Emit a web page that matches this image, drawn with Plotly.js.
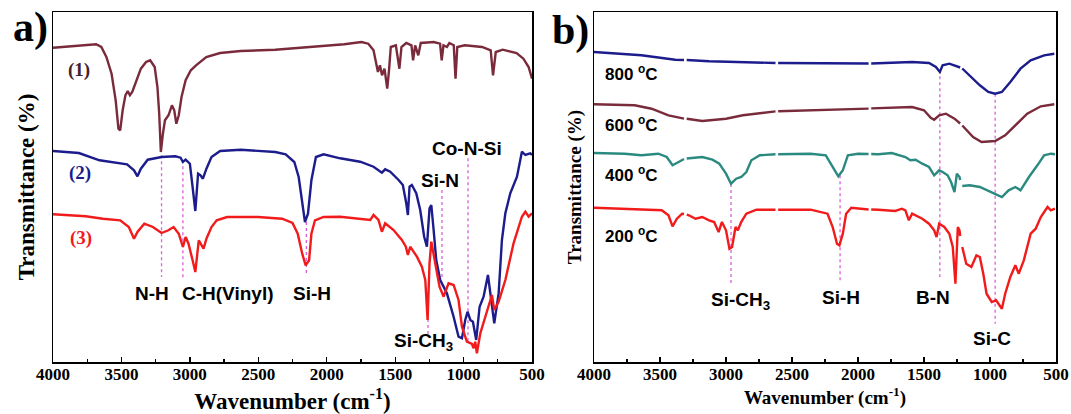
<!DOCTYPE html>
<html>
<head>
<meta charset="utf-8">
<script src="https://cdn.plot.ly/plotly-3.0.1.min.js"></script>
<style>html,body{margin:0;padding:0;background:#fff;}#chart{width:1071px;height:414px;}</style>
</head>
<body>
<div id="chart"></div>
<script>
// ---------- Panel a data (wavenumber, relative transmittance, stacked offsets) ----------
const wnA1 = [4000,3685,3647,3610,3572,3542,3522,3509,3491,3471,3454,3438,3421,3396,3358,3320,3290,3257,3237,3224,3212,3197,3182,3156,3131,3114,3099,3081,3061,3031,2993,2955,2880,2779,2628,2376,2124,1872,1746,1696,1658,1641,1626,1611,1596,1578,1558,1545,1532,1495,1469,1454,1419,1381,1369,1354,1331,1313,1218,1172,1160,1147,1122,1104,1072,1059,1046,991,865,802,785,765,714,613,563,525,500];
const trA1 = [314.3,317.7,315,305,288.3,261.7,233.3,231.7,251.7,266.7,271,266.7,270,280,293.3,300,301.7,295,275,248.3,210,228.3,241.7,246.7,256.7,251.7,238.3,246.7,265,281.7,291.7,296.7,305,309,311,312.3,315,317.7,320,318.3,311.7,301.7,290,296.7,286.7,293.3,273.3,291.7,315,316.7,293.3,315,319,316.7,301.7,316.7,306.7,319,320,318.3,301.7,316.7,315,319,316.7,283.3,315,316.7,315,311.7,286.7,310,312.3,309,303.3,295,283.3];

const wnA2 = [4000,3811,3660,3559,3459,3408,3383,3358,3308,3207,3106,3068,3051,3031,3000,2980,2960,2940,2922,2905,2879,2842,2779,2628,2376,2300,2237,2205,2179,2159,2137,2112,2079,2023,1902,1756,1658,1597,1573,1536,1475,1444,1419,1407,1395,1378,1346,1317,1288,1268,1249,1236,1219,1200,1171,1122,1073,1037,1012,988,971,951,932,908,883,854,822,800,776,744,720,695,659,610,574,549,513,500];
const trA2 = [211,209,201.7,200,197.7,191.7,185.7,193.3,202.3,205,205.7,204.3,200,202.3,198.3,175,151,188.3,186.7,183.3,193.3,205,211,212.3,210,207.7,200,185,158.3,140,148.3,181.7,205,207.7,203.7,200.3,195.3,189.3,192.7,190.3,182,177,158.7,147,175.3,177,168.7,152,125.3,115.3,153.7,157,132,102,82,68.7,45.3,25.3,23.7,42,50.3,42,40.3,22,55.3,65.3,87,65.3,38.7,68.7,122,148.7,168.7,185.3,210.3,207,208.7,207];

const wnA3 = [4000,3761,3635,3509,3446,3408,3383,3333,3270,3207,3157,3119,3081,3051,3031,3010,2980,2960,2935,2917,2900,2879,2842,2804,2728,2502,2326,2250,2212,2179,2154,2129,2112,2086,2023,1902,1780,1682,1658,1622,1597,1573,1512,1451,1422,1407,1390,1341,1305,1280,1263,1249,1236,1207,1176,1146,1110,1073,1037,1012,976,939,927,915,903,878,842,817,793,776,744,695,635,574,549,525,500];
const trA3 = [147.7,145.7,143.3,141.7,135,123.3,130,138.3,135,129,131.7,135,128.3,115,125,118.3,101.7,90,121.7,116.7,113.3,123.3,135,141.7,145,145,143.3,139,128.3,108.3,96.7,101.7,128.3,141.7,145,145.3,143.7,142,147,142,130.3,138.7,132,122,115.3,107,115.3,105.3,95.3,82,42,98.7,120.3,98.7,75.3,65.3,78.7,77,62,35.3,20.3,18,13.7,20.3,8.7,28.7,45.3,55.3,67,52,60.3,82,118.7,145.3,150.3,145.3,148.7];

const seriesNamesA = ["(1)", "(2)", "(3)"];

// marker lines panel a
const markWnA = [3207, 3051, 2149, 1260, 1158, 968];
const markTopA = [206.7, 201.7, 140, 55, 172, 203.7];
const markBotA = [85, 83.3, 88.3, 25, 82, 18.7];
const bandLabelsA = ["N-H", "C-H(Vinyl)", "Si-H", "Si-N", "Co-N-Si", "Si-CH<sub>3</sub>"];

// ---------- Panel b data (null = small break visible in the original lines) ----------
const wnB800 = [4000,3641,3385,3318,3308,3298,3128,2625,2615,2605,2103,1920,1910,1900,1590,1462,1410,1380,1359,1308,1231,1226,1218,1210,1154,1077,1013,961,910,846,769,692,590,513];
const trB800 = [310,306.7,302.3,302,null,302,300.7,299,null,299,298.3,298.5,null,298.5,300,299,295,290,296.7,298.3,295,294.5,null,293.5,286.7,276.7,270,268.3,270,280,293.3,301.7,306.7,308.3];

const wnB600 = [4000,3692,3564,3436,3318,3308,3298,3180,3000,2872,2625,2615,2605,2103,1920,1910,1900,1590,1500,1449,1423,1385,1334,1269,1226,1218,1210,1128,1064,961,885,795,718,615,513];
const trB600 = [257.7,256.7,253.3,246.7,243.3,null,243.2,241,243.3,246.7,250.6,null,250.8,253,253.4,null,253.6,255,251.7,244.3,242.3,246.7,248.3,243.3,238.5,null,236.5,225,220,221,226.7,238.3,248.3,255.7,257.7];

const wnB400 = [4000,3769,3641,3513,3449,3405,3359,3318,3308,3298,3180,3103,3051,3000,2962,2923,2885,2846,2808,2744,2625,2615,2605,2359,2244,2192,2149,2115,2077,2000,1920,1910,1900,1846,1744,1692,1641,1603,1564,1513,1462,1423,1385,1359,1321,1295,1269,1251,1231,1226,1218,1210,1154,1077,1026,961,910,859,808,769,705,641,590,539,508];
const trB400 = [209,208.3,206.7,208.3,205,196.7,200,203,null,203.5,205,202.3,198.3,188.3,178.3,183.3,185,190,201.7,206.7,207.7,null,207.7,208.3,206.7,195,185.7,191.7,206.7,208.3,208,null,208,207.7,209,206.7,205,201.7,202.3,198.3,195,186.7,191.7,190,186.7,180,170,188.3,185,182,null,176,176.7,175,171.7,168.3,165,171.7,175,171.7,185,196.7,206.7,208.3,207.7];

const wnB200 = [4000,3769,3641,3487,3436,3405,3372,3333,3318,3308,3298,3282,3231,3180,3128,3090,3056,3031,3000,2974,2954,2928,2910,2885,2846,2769,2625,2615,2605,2359,2231,2192,2159,2141,2115,2090,2051,1920,1910,1900,1846,1718,1667,1641,1615,1590,1513,1462,1423,1405,1385,1346,1308,1282,1262,1244,1231,1226,1218,1210,1180,1141,1103,1077,1051,1026,987,954,936,910,885,846,808,782,744,692,654,615,564,539,508];
const trB200 = [154.3,153.3,152.3,151.7,146.7,135.7,143.3,148.3,148,null,147.5,146.7,143.3,145,141.7,140,130,140,131.7,113.3,115,135,131.7,140,148.3,152.3,152.3,null,152.3,152.3,148.3,135,118.3,116.7,128.3,148.3,154.3,152.5,null,152.5,152.3,151,153.3,151.7,141.7,148.3,143.3,138.3,131.7,125,138.3,135,128.3,115,78.3,135,131.7,126,null,115,98.3,95,106.7,105,88.3,68.3,60,61.7,58.3,53.3,68.3,85,96.7,88.3,101.7,128.3,133.3,145,155,151.7,153.3];

const tempLabelsB = ["800 <sup>o</sup>C", "600 <sup>o</sup>C", "400 <sup>o</sup>C", "200 <sup>o</sup>C"];

const markWnB = [2962, 2136, 1380, 961];
const markTopB = [178, 186.7, 291.7, 268.3];
const markBotB = [78, 81.7, 85, 38.3];
const bandLabelsB = ["Si-CH<sub>3</sub>", "Si-H", "B-N", "Si-C"];

const xTickVals = [4000, 3500, 3000, 2500, 2000, 1500, 1000, 500];
const xTickText = ["4000", "3500", "3000", "2500", "2000", "1500", "1000", "500"];

// ---------- styles ----------
const MAROON = "#7a2b3b", NAVY = "#1c1c8c", RED = "#f21b1b", TEAL = "#2b8a80", DOT = "#dd5ddd";
const serif = "Liberation Serif, Times New Roman, serif";
const sans = "Liberation Sans, Arial, sans-serif";

function markerTrace(wn, top, bot, xa, ya) {
  const xs = [], ys = [];
  for (let i = 0; i < wn.length; i++) { xs.push(wn[i], wn[i], null); ys.push(top[i], bot[i], null); }
  return {x: xs, y: ys, xaxis: xa, yaxis: ya, mode: "lines", line: {color: DOT, width: 1.3, dash: "dot"}, hoverinfo: "skip", showlegend: false};
}
function curve(x, y, color, name, xa, ya) {
  return {x: x, y: y, xaxis: xa, yaxis: ya, mode: "lines", name: name, connectgaps: false, line: {color: color, width: 2.4}, showlegend: false};
}

const data = [
  markerTrace(markWnA, markTopA, markBotA, "x", "y"),
  markerTrace(markWnB, markTopB, markBotB, "x2", "y2"),
  curve(wnA1, trA1, MAROON, seriesNamesA[0], "x", "y"),
  curve(wnA2, trA2, NAVY, seriesNamesA[1], "x", "y"),
  curve(wnA3, trA3, RED, seriesNamesA[2], "x", "y"),
  curve(wnB800, trB800, NAVY, "800 °C", "x2", "y2"),
  curve(wnB600, trB600, MAROON, "600 °C", "x2", "y2"),
  curve(wnB400, trB400, TEAL, "400 °C", "x2", "y2"),
  curve(wnB200, trB200, RED, "200 °C", "x2", "y2")
];

function xAxis(domain, titleSize, standoff) {
  return {
    domain: domain, range: [4000, 500], anchor: domain[0] === 0 ? "y" : "y2",
    tickvals: xTickVals, ticktext: xTickText,
    ticks: "inside", ticklen: 5, tickwidth: 1.3, tickcolor: "#000",
    minor: {dtick: 250, tick0: 0, ticks: "inside", ticklen: 3, tickwidth: 1.2, tickcolor: "#000"},
    showline: true, linecolor: "#000", linewidth: 1.5, mirror: true,
    showgrid: false, zeroline: false, automargin: false,
    ticklabelstandoff: -4,
    tickfont: {family: serif, size: 17, color: "#000", weight: "bold"},
    title: {text: "Wavenumber (cm<sup>-1</sup>)", font: {family: serif, size: titleSize, color: "#000", weight: "bold"}, standoff: standoff}
  };
}
function yAxis(anchor, titleSize, standoff) {
  return {
    domain: [0, 1], range: [0, 350], anchor: anchor,
    showticklabels: false, ticks: "", showgrid: false, zeroline: false,
    showline: true, linecolor: "#000", linewidth: 1.5, mirror: true, automargin: false,
    title: {text: "Transmittance (%)", font: {family: serif, size: titleSize, color: "#000", weight: "bold"}, standoff: standoff}
  };
}

const annotations = [];
function ann(text, x, y, xref, yref, font, extra) {
  annotations.push(Object.assign({text: text, x: x, y: y, xref: xref, yref: yref, showarrow: false, font: font, xanchor: "center", yanchor: "middle"}, extra || {}));
}
const bandFont = {family: sans, size: 19, color: "#000", weight: "bold"};
// panel letters
ann("a)", -0.022, 0.955, "paper", "paper", {family: serif, size: 42, color: "#000", weight: "bold"});
ann("b)", 0.5155, 0.948, "paper", "paper", {family: serif, size: 42, color: "#000", weight: "bold"});
// curve labels panel a
ann(seriesNamesA[0], 3810, 292, "x", "y", {family: serif, size: 19, color: "#45222b", weight: "bold"});
ann(seriesNamesA[1], 3803, 189, "x", "y", {family: serif, size: 19, color: NAVY, weight: "bold"});
ann(seriesNamesA[2], 3795, 124, "x", "y", {family: serif, size: 19, color: RED, weight: "bold"});
// band labels panel a
const bandPosA = [[3280, 69], [2728, 69], [2109, 69], [1171, 182], [975, 214], [1295, 20]];
bandLabelsA.forEach((t, i) => ann(t, bandPosA[i][0], bandPosA[i][1], "x", "y", bandFont));
// temperature labels panel b
const tempY = [289, 238, 188, 127];
tempLabelsB.forEach((t, i) => ann(t, 3932, tempY[i], "x2", "y2", {family: sans, size: 17, color: "#000", weight: "bold"}, {xanchor: "left"}));
// band labels panel b
const bandPosB = [[2894, 61], [2129, 65], [1432, 65], [985, 24]];
bandLabelsB.forEach((t, i) => ann(t, bandPosB[i][0], bandPosB[i][1], "x2", "y2", bandFont));

const layout = {
  width: 1071, height: 414,
  margin: {l: 53, r: 15, t: 12, b: 52, pad: 0},
  paper_bgcolor: "#fff", plot_bgcolor: "#fff",
  showlegend: false,
  xaxis: xAxis([0, 0.4776], 23, 12),
  xaxis2: xAxis([0.5394, 1], 19, 7),
  yaxis: yAxis("x", 23, 10),
  yaxis2: yAxis("x2", 19, 6),
  annotations: annotations
};

Plotly.newPlot("chart", data, layout, {displayModeBar: false, staticPlot: true});
</script>
</body>
</html>
